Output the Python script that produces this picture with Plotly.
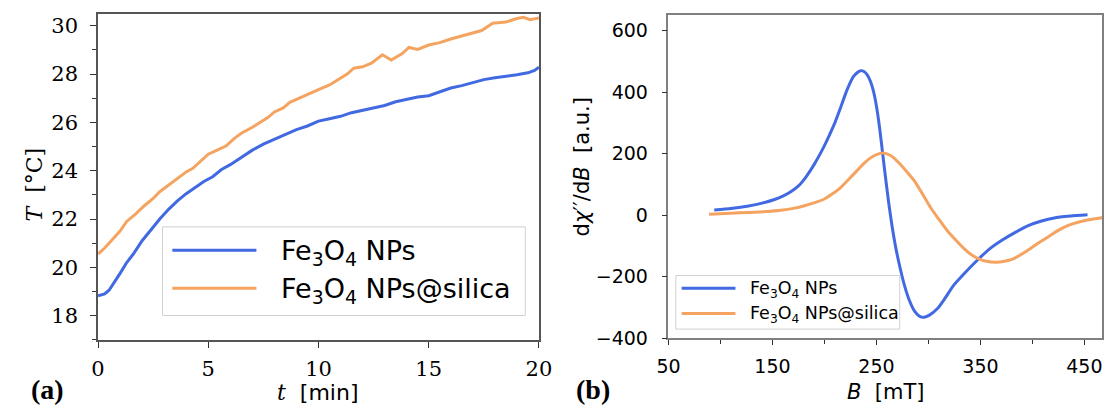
import plotly.graph_objects as go

W, H = 1118, 418

# ---------------- data: panel (a) heating curves ----------------
t_blue = [0, 0.3, 0.5, 0.8, 1.0, 1.3, 1.6, 2.0, 2.4, 2.8, 3.2, 3.6, 4.0, 4.4, 4.8, 5.2,
          5.6, 6.0, 6.5, 7.0, 7.5, 8.0, 8.5, 9.0, 9.5, 10.0, 10.5, 11.0, 11.5, 12.0,
          12.5, 13.0, 13.5, 14.0, 14.5, 15.0, 15.5, 16.0, 16.5, 17.0, 17.5, 18.0,
          18.5, 19.0, 19.5, 19.8, 20.0]
T_blue = [18.82, 18.9, 19.05, 19.45, 19.75, 20.2, 20.55, 21.1, 21.55, 22.0, 22.4, 22.75,
          23.05, 23.3, 23.55, 23.75, 24.05, 24.25, 24.55, 24.85, 25.1, 25.3, 25.5, 25.7,
          25.85, 26.05, 26.15, 26.25, 26.4, 26.5, 26.62, 26.7, 26.85, 26.95, 27.05, 27.1,
          27.25, 27.42, 27.52, 27.65, 27.77, 27.85, 27.9, 27.97, 28.05, 28.15, 28.28]

t_orange = [0, 0.3, 0.6, 1.0, 1.3, 1.7, 2.1, 2.5, 2.8, 3.2, 3.6, 4.0, 4.3, 4.7, 5.0, 5.4,
            5.8, 6.2, 6.5, 7.0, 7.3, 7.7, 8.0, 8.4, 8.7, 9.1, 9.5, 10.0, 10.5, 10.9, 11.3,
            11.6, 12.0, 12.4, 12.9, 13.3, 13.8, 14.1, 14.5, 15.0, 15.5, 16.0, 16.6, 17.0,
            17.4, 17.9, 18.5, 19.0, 19.3, 19.6, 20.0]
T_orange = [20.55, 20.8, 21.1, 21.5, 21.9, 22.2, 22.55, 22.85, 23.13, 23.4, 23.67, 23.95,
            24.1, 24.45, 24.68, 24.85, 25.02, 25.35, 25.55, 25.8, 25.96, 26.2, 26.43, 26.6,
            26.83, 27.0, 27.15, 27.35, 27.55, 27.77, 28.0, 28.24, 28.3, 28.45, 28.8, 28.58,
            28.85, 29.1, 29.02, 29.2, 29.3, 29.45, 29.6, 29.7, 29.8, 30.1, 30.15, 30.3,
            30.35, 30.25, 30.32]

# ---------------- data: panel (b) EPR derivative spectra ----------------
B_blue = [94, 110, 127, 140, 152, 160, 168, 175, 179, 183, 187, 191, 196, 200, 205, 210,
          215, 220, 224, 228, 232, 235, 238, 241, 244, 247, 250, 253, 256, 259, 262, 265,
          269, 273, 277, 282, 287, 292, 296, 301, 309, 316, 324, 335, 346, 358, 371, 384,
          396, 408, 421, 437, 453]
S_blue = [17, 22, 30, 39, 51, 62, 77, 95, 110, 128, 148, 170, 200, 226, 262, 300,
          345, 392, 425, 451, 465, 470, 467, 457, 437, 405, 355, 285, 200, 115, 35, -35,
          -113, -175, -229, -280, -314, -330, -332, -325, -303, -270, -229, -188, -150, -112, -81, -55,
          -34, -20, -9, -3, 1]

B_orange = [89, 110, 127, 145, 158, 170, 180, 190, 199, 207, 215, 222, 230, 237, 243, 250,
            257, 264, 271, 279, 287, 295, 302, 310, 318, 326, 334, 341, 349, 357, 365, 373,
            381, 388, 396, 405, 415, 424, 434, 443, 453, 462, 470]
S_orange = [3, 6, 9, 12, 16, 22, 30, 40, 51, 68, 88, 112, 140, 165, 183, 197,
            202, 193, 172, 142, 109, 65, 25, -13, -50, -80, -108, -128, -143, -151, -153, -150,
            -143, -130, -113, -92, -71, -51, -34, -24, -16, -11, -7]

series_labels = ["Fe<sub>3</sub>O<sub>4</sub> NPs", "Fe<sub>3</sub>O<sub>4</sub> NPs@silica"]
a_xticks = [0, 5, 10, 15, 20]
a_yticks = [18, 20, 22, 24, 26, 28, 30]
b_xticks = [50, 150, 250, 350, 450]
b_yticks = [-400, -200, 0, 200, 400, 600]

BLUE = "#4169e1"
ORANGE = "#f4a460"
SERIF = "DejaVu Serif"
SANS = "DejaVu Sans"


def px(x):
    return x / W


def py(y):
    return 1 - y / H


fig = go.Figure()
fig.add_trace(go.Scatter(x=t_blue, y=T_blue, mode="lines", line=dict(color=BLUE, width=3),
                         xaxis="x", yaxis="y", showlegend=False))
fig.add_trace(go.Scatter(x=t_orange, y=T_orange, mode="lines", line=dict(color=ORANGE, width=3),
                         xaxis="x", yaxis="y", showlegend=False))
fig.add_trace(go.Scatter(x=B_blue, y=S_blue, mode="lines",
                         line=dict(color=BLUE, width=3, shape="spline", smoothing=0.5),
                         xaxis="x2", yaxis="y2", showlegend=False))
fig.add_trace(go.Scatter(x=B_orange, y=S_orange, mode="lines",
                         line=dict(color=ORANGE, width=3, shape="spline", smoothing=0.6),
                         xaxis="x2", yaxis="y2", showlegend=False))

axA = dict(showline=True, mirror=True, linecolor="#555", linewidth=1.5, ticks="outside",
           ticklen=6, tickwidth=1.3, tickcolor="#333", showgrid=False, zeroline=False,
           tickfont=dict(family=SERIF, size=21, color="black"))
axB = dict(showline=True, mirror=True, linecolor="#808080", linewidth=1.5, ticks="outside",
           ticklen=5, tickwidth=1.3, tickcolor="#333", showgrid=False, zeroline=False,
           tickfont=dict(family=SANS, size=19, color="black"))

fig.update_layout(
    width=W, height=H, margin=dict(l=0, r=0, t=0, b=0),
    paper_bgcolor="white", plot_bgcolor="white", showlegend=False,
    xaxis=dict(axA, domain=[px(88), px(539)], range=[0, 20], tickvals=a_xticks,
               anchor="y", ticklabelstandoff=3),
    yaxis=dict(axA, domain=[py(349), py(14)], range=[17, 30.5], tickvals=a_yticks,
               anchor="x", ticklabelstandoff=8,
               minor=dict(dtick=1, tick0=17, ticks="outside", ticklen=4, tickcolor="#333")),
    xaxis2=dict(axB, domain=[px(671.5), px(1115)], range=[50, 467], tickvals=b_xticks,
                anchor="y2", ticklabelstandoff=5,
                minor=dict(dtick=50, tick0=50, ticks="outside", ticklen=4, tickcolor="#333")),
    yaxis2=dict(axB, domain=[py(347.3), py(15.7)], range=[-400, 650], tickvals=b_yticks,
                anchor="x2", ticklabelstandoff=10),
)

ann = []
# axis titles
ann.append(dict(x=px(313), y=py(403), text="<i>t</i>  <span style=\"font-family:DejaVu Sans\">[min]</span>",
                font=dict(family=SERIF, size=22, color="black")))
ann.append(dict(x=px(22), y=py(190), text="<i>T</i>  [°C]", textangle=-90,
                font=dict(family=SERIF, size=22, color="black")))
ann.append(dict(x=px(893), y=py(403), text="<i>B</i>  [mT]",
                font=dict(family=SANS, size=21, color="black")))
ann.append(dict(x=px(583), y=py(171), text="d<i>χ</i>′′/d<i>B</i>  [a.u.]", textangle=-90,
                font=dict(family=SANS, size=21, color="black")))
# panel labels
ann.append(dict(x=px(36), y=py(400), text="<b>(a)</b>",
                font=dict(family="Liberation Serif", size=28, color="black")))
ann.append(dict(x=px(594), y=py(400), text="<b>(b)</b>",
                font=dict(family="Liberation Serif", size=28, color="black")))

shapes = []
# custom legend (a)
shapes.append(dict(type="rect", xref="paper", yref="paper", x0=px(154), x1=px(525), y0=py(324), y1=py(233),
                   line=dict(color="#d0d0d0", width=1), fillcolor="rgba(255,255,255,0.85)"))
for yy, col, lab in [(257, BLUE, series_labels[0]), (296, ORANGE, series_labels[1])]:
    shapes.append(dict(type="line", xref="paper", yref="paper", x0=px(164), x1=px(250), y0=py(yy), y1=py(yy),
                       line=dict(color=col, width=3)))
    ann.append(dict(x=px(273), y=py(yy + 2), text=lab, xanchor="left",
                    font=dict(family=SANS, size=27, color="black")))
# custom legend (b)
shapes.append(dict(type="rect", xref="paper", yref="paper", x0=px(679), x1=px(908), y0=py(338), y1=py(283),
                   line=dict(color="#d0d0d0", width=1), fillcolor="rgba(255,255,255,0.85)"))
for yy, col, lab in [(296, BLUE, series_labels[0]), (322, ORANGE, series_labels[1])]:
    shapes.append(dict(type="line", xref="paper", yref="paper", x0=px(685), x1=px(740), y0=py(yy), y1=py(yy),
                       line=dict(color=col, width=3)))
    ann.append(dict(x=px(753), y=py(yy + 1), text=lab, xanchor="left",
                    font=dict(family=SANS, size=17.5, color="black")))

for a in ann:
    a.setdefault("xref", "paper")
    a.setdefault("yref", "paper")
    a.setdefault("showarrow", False)
    a.setdefault("xanchor", "center")
    a.setdefault("yanchor", "middle")
fig.update_layout(annotations=ann, shapes=shapes)

fig.write_html("out.html")
